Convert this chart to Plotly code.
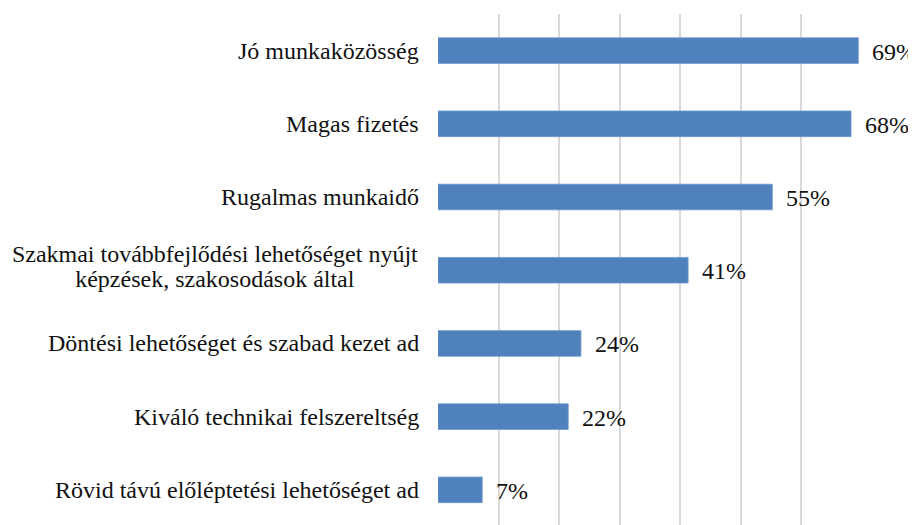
import plotly.graph_objects as go

categories = [
    "Jó munkaközösség",
    "Magas fizetés",
    "Rugalmas munkaidő",
    "Szakmai továbbfejlődési lehetőséget nyújt<br>képzések, szakosodások által",
    "Döntési lehetőséget és szabad kezet ad",
    "Kiváló technikai felszereltség",
    "Rövid távú előléptetési lehetőséget ad",
]
# bar lengths in percent (labels are the rounded values)
values = [69.4, 68.2, 55.2, 41.3, 23.6, 21.5, 7.3]
labels = [f"{round(v)}%" for v in values]

FONT = "Liberation Serif"
BAR_COLOR = "#4F81BD"
TEXT_COLOR = "#111111"

fig = go.Figure()
fig.add_trace(go.Bar(
    x=values, y=categories, orientation="h",
    marker_color=BAR_COLOR, marker_line_color="#6F97CC", marker_line_width=0.8,
    width=0.35, hoverinfo="skip",
))

# value labels to the right of each bar
for cat, v, lab in zip(categories, values, labels):
    fig.add_annotation(x=v, y=cat, text=lab, showarrow=False,
                       xanchor="left", xshift=12, yshift=-1,
                       font=dict(family=FONT, size=24, color=TEXT_COLOR))

# category labels on the left; the two-line one is centred, with tight line spacing
for cat in categories:
    lines = cat.split("<br>")
    if len(lines) == 1:
        fig.add_annotation(x=0, xref="paper", y=cat, text=cat, showarrow=False,
                           xanchor="right", xshift=-17,
                           font=dict(family=FONT, size=24, color=TEXT_COLOR))
    else:
        shifts = [16, -9]
        for line, ys in zip(lines, shifts):
            fig.add_annotation(x=0, xref="paper", y=cat, text=line, showarrow=False,
                               xanchor="right", xshift=-17, yshift=ys,
                               width=408, align="center",
                               font=dict(family=FONT, size=24, color=TEXT_COLOR))

# the page body adds an 8px margin, so the figure is 8px smaller
fig.update_layout(
    width=908, height=517,
    margin=dict(l=430, r=54, t=6, b=0),
    font=dict(family=FONT),
    plot_bgcolor="white", paper_bgcolor="white",
    showlegend=False,
    xaxis=dict(range=[0, 70.01], dtick=10, showgrid=True, gridcolor="#D9D9D9",
               gridwidth=1.6, zeroline=False, showticklabels=False,
               showline=False, ticks="", fixedrange=True),
    yaxis=dict(type="category", categoryorder="array", categoryarray=categories,
               range=[6.48, -0.5], showticklabels=False, showgrid=False,
               zeroline=False, showline=False, ticks="", fixedrange=True),
)

fig.write_html("out.html")
